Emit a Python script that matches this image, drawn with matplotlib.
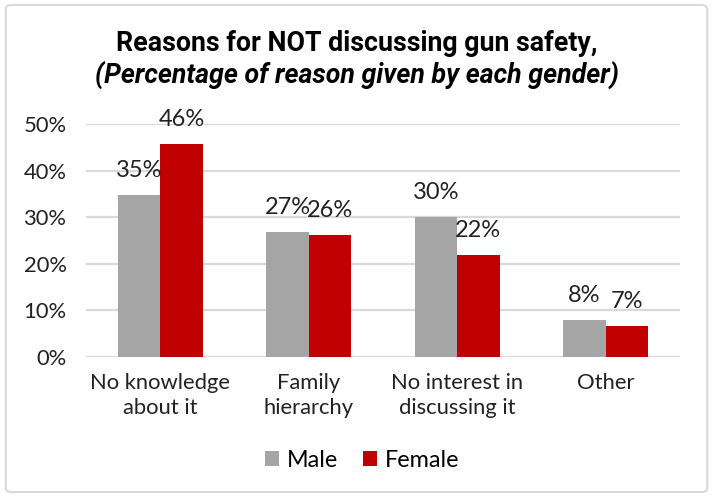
import numpy as np
import matplotlib.pyplot as plt
from matplotlib.patches import FancyBboxPatch

# reasons and share of each gender giving them (%)
reasons = ['No knowledge\nabout it', 'Family\nhierarchy', 'No interest in\ndiscussing it', 'Other']
male = [34.8, 26.9, 30.1, 7.9]
female = [45.6, 26.1, 21.8, 6.6]
yticks = [0, 10, 20, 30, 40, 50]

plt.rcParams['font.family'] = ['Lato', 'DejaVu Sans']

fig = plt.figure(figsize=(7.13, 4.97), dpi=100)
ax = fig.add_axes([0.1206, 0.2823, 0.8331, 0.4682])

x = np.arange(len(reasons))
w = 0.285
b1 = ax.bar(x - w / 2, male, w, color='#A5A5A5', label='Male', zorder=3)
b2 = ax.bar(x + w / 2, female, w, color='#C00000', label='Female', zorder=3)

# value labels above each bar
for bars, vals in ((b1, male), (b2, female)):
    for r, v in zip(bars, vals):
        ax.annotate(f'{v:.0f}%', (r.get_x() + r.get_width() / 2, v),
                    xytext=(0, 14), textcoords='offset pixels',
                    ha='center', va='bottom', fontsize=17, color='#222222',
                    annotation_clip=False)

ax.set_xlim(-0.5, len(reasons) - 0.5)
ax.set_ylim(0, 50)
ax.set_yticks(yticks)
ax.set_yticklabels([f'{t}%' for t in yticks])
ax.set_xticks(x)
ax.set_xticklabels(reasons, linespacing=1.3)
ax.tick_params(axis='both', length=0, labelsize=15.8, colors='#222222')
ax.tick_params(axis='y', pad=14)
ax.tick_params(axis='x', pad=12)
ax.yaxis.grid(True, color='#D9D9D9', linewidth=1.6, zorder=0)
for s in ax.spines.values():
    s.set_visible(False)

fig.text(0.5, 0.913, 'Reasons for NOT discussing gun safety,', ha='center', va='center',
         fontsize=19.3, fontweight='bold', family=['Roboto', 'DejaVu Sans'])
fig.text(0.5, 0.847, '(Percentage of reason given by each gender)', ha='center', va='center',
         fontsize=19.3, fontweight='bold', fontstyle='italic', family=['Roboto', 'DejaVu Sans'])

fig.legend(handles=[b1, b2], loc='center', bbox_to_anchor=(0.508, 0.074), ncol=2,
           frameon=False, fontsize=16.8, handlelength=0.6, handleheight=0.6,
           handletextpad=0.3, columnspacing=1.1)

# light rounded frame round the chart
fig.patches.append(FancyBboxPatch((0.008, 0.01), 0.984, 0.98, boxstyle='round,pad=0,rounding_size=0.008',
                                  transform=fig.transFigure, fill=False, edgecolor='#D9D9D9', linewidth=1.5))

fig.savefig('out.png', dpi=100)
